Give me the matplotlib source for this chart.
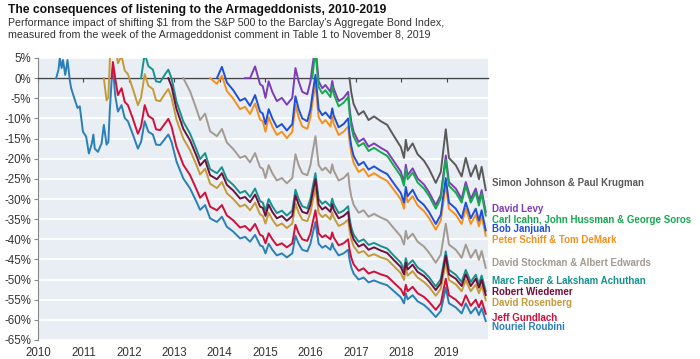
import matplotlib
matplotlib.use('Agg')
import matplotlib.pyplot as plt

plt.rcParams['font.family'] = ['Liberation Sans', 'DejaVu Sans']

# weekly-ish sample dates (decimal years); every series runs to Nov 8, 2019
dates = [2010.40, 2010.45, 2010.48, 2010.52, 2010.55, 2010.60, 2010.65, 2010.70, 2010.73, 2010.80,
         2010.87, 2010.92, 2010.99, 2011.06, 2011.12, 2011.18, 2011.22, 2011.25, 2011.32, 2011.40,
         2011.45, 2011.51, 2011.55, 2011.58, 2011.62, 2011.65, 2011.70, 2011.76, 2011.84, 2011.91,
         2011.98, 2012.09, 2012.20, 2012.27, 2012.35, 2012.43, 2012.53, 2012.60, 2012.69, 2012.80,
         2012.87, 2012.94, 2013.05, 2013.20, 2013.35, 2013.49, 2013.57, 2013.68, 2013.79, 2013.94,
         2014.05, 2014.16, 2014.30, 2014.45, 2014.56, 2014.67, 2014.78, 2014.89, 2014.95, 2015.01,
         2015.08, 2015.16, 2015.26, 2015.37, 2015.48, 2015.60, 2015.67, 2015.74, 2015.82, 2015.93,
         2016.00, 2016.04, 2016.11, 2016.18, 2016.26, 2016.33, 2016.44, 2016.48, 2016.51, 2016.62,
         2016.73, 2016.83, 2016.86, 2016.90, 2016.95, 2017.06, 2017.17, 2017.28, 2017.40, 2017.55,
         2017.69, 2017.84, 2017.99, 2018.06, 2018.10, 2018.14, 2018.25, 2018.36, 2018.50, 2018.61,
         2018.76, 2018.87, 2018.98, 2019.05, 2019.20, 2019.33, 2019.42, 2019.53, 2019.64, 2019.71,
         2019.77, 2019.86]

roubini = [0, 2.0, 5.0, 2.5, 4.5, 0.8, 4.5, -0.5, -2.5, -5.0,
           -7.4, -7.0, -13.3, -14.5, -18.7, -16.5, -14.0, -17.5, -18.3, -16.2,
           -11.6, -16.5, -15.8, -8.3, -0.8, 2.5, -4.3, -8.3, -6.7, -9.9,
           -10.7, -14.0, -17.5, -15.8, -10.7, -13.3, -14.0, -16.5, -16.6, -15.0,
           -14.0, -15.8, -20.7, -24.9, -27.4, -30.7, -32.7, -31.5, -34.8, -35.7,
           -34.4, -36.9, -38.1, -39.8, -39.4, -40.6, -38.9, -41.5, -41.8, -43.5,
           -41.1, -42.6, -44.0, -43.5, -44.5, -43.5, -39.1, -41.1, -42.6, -43.0,
           -41.1, -39.0, -35.7, -41.1, -42.1, -41.6, -42.6, -41.0, -42.1, -44.0,
           -43.5, -42.6, -45.0, -47.0, -48.5, -50.0, -49.5, -50.7, -50.2, -50.9,
           -51.4, -52.9, -54.4, -55.9, -53.4, -54.9, -53.9, -55.4, -56.3, -57.4,
           -59.3, -57.8, -52.0, -55.9, -56.9, -58.4, -55.9, -58.4, -56.9, -58.8,
           -57.1, -60.3]

gundlach = [0, 4.0, 0, -4.2, -2.5, -5.9, -6.7, -10.1, -13.8, -12.0, -6.7, -9.4,
            -10.1, -12.7, -12.9, -11.2, -10.1, -12.0, -17.1, -21.5, -24.1, -27.6,
            -29.7, -28.4, -31.9, -32.8, -31.5, -34.1, -35.3, -37.1, -36.7, -37.9,
            -36.2, -38.9, -39.2, -41.0, -38.5, -40.0, -41.5, -41.0, -42.0, -41.0,
            -36.4, -38.5, -40.0, -40.4, -38.5, -36.3, -32.8, -38.5, -39.5, -39.0,
            -40.0, -38.3, -39.5, -41.5, -41.0,
            -40.0, -42.5, -44.6, -46.2, -47.8, -47.2, -48.5, -48.0, -48.7, -49.2,
            -50.8, -52.4, -53.9, -51.3, -52.9, -51.8, -53.4, -54.3, -55.5, -57.5,
            -55.9, -49.8, -53.9, -55.0, -56.5, -53.9, -56.5, -55.0, -56.9, -55.2, -58.5]

rosenberg = [0, -5.5, -4.8, 3.7, 12.2, 16.0, 8.3, 3.7, 5.5, 1.9,
             1.0, -2.7, -6.7, -4.8, 1.0, -1.9, -2.7, -5.5, -5.7, -3.8,
             -2.7, -4.8, -10.3, -15.0, -17.9, -21.6, -23.9, -22.5, -26.2, -27.3,
             -25.8, -28.6, -30.0, -31.9, -31.4, -32.8, -30.9, -33.8, -34.2, -36.1,
             -33.4, -35.1, -36.7, -36.1, -37.2, -36.1, -31.1, -33.4, -35.1, -35.5,
             -33.4, -31.0, -27.3, -33.4, -34.5, -33.9, -35.1, -33.3, -34.5, -36.7,
             -36.1, -35.1, -37.8, -40.0, -41.7, -43.4, -42.9, -44.2, -43.7, -44.5,
             -45.0, -46.7, -48.4, -50.1, -47.3, -49.0, -47.9, -49.5, -50.6, -51.8,
             -54.0, -52.3, -45.7, -50.1, -51.2, -52.9, -50.1, -52.9, -51.2, -53.4,
             -51.5, -55.1]

faber = [0, 6.1, 3.0, 2.1, -0.8, -1.0, 1.0, 2.1, 0, -5.8,
         -10.8, -13.8, -17.7, -20.1, -18.6, -22.6, -23.6, -22.1, -25.1, -26.5,
         -28.5, -28.0, -29.5, -27.4, -30.5, -30.9, -32.9, -30.0, -31.8, -33.5,
         -32.9, -34.1, -32.9, -27.7, -30.0, -31.8, -32.3, -30.0, -27.6, -23.6,
         -30.0, -31.2, -30.6, -31.8, -29.9, -31.2, -33.5, -32.9, -31.8, -34.7,
         -37.1, -38.8, -40.6, -40.0, -41.4, -40.9, -41.7, -42.3, -44.1, -45.8,
         -47.6, -44.7, -46.4, -45.2, -47.0, -48.1, -49.4, -51.7, -49.9, -43.0,
         -47.6, -48.8, -50.6, -47.6, -50.6, -48.8, -51.1, -49.0, -52.9]

wiedemer = [0, -2.0, -7.7, -12.6, -15.5, -19.3, -21.7, -20.3, -24.1, -25.1,
            -23.6, -26.5, -27.9, -29.9, -29.5, -30.8, -28.9, -31.9, -32.2, -34.2,
            -31.4, -33.2, -34.8, -34.2, -35.4, -34.2, -29.1, -31.4, -33.2, -33.6,
            -31.4, -29.0, -25.1, -31.4, -32.6, -32.0, -33.2, -31.3, -32.6, -34.8,
            -34.2, -33.2, -36.0, -38.3, -40.0, -41.8, -41.2, -42.6, -42.0, -42.8,
            -43.4, -45.2, -46.9, -48.7, -45.8, -47.5, -46.3, -48.1, -49.1, -50.4,
            -52.6, -50.9, -44.1, -48.7, -49.8, -51.6, -48.7, -51.6, -49.8, -52.0,
            -50.1, -53.8]

stockman = [0, -3.3, -7.7, -10.4, -8.8, -13.2, -14.4, -12.6, -16.0, -17.6,
            -19.8, -19.3, -20.9, -18.6, -22.1, -22.5, -24.8, -21.6, -23.6, -25.4,
            -24.8, -26.1, -24.8, -18.9, -21.6, -23.6, -24.1, -21.6, -18.8, -14.4,
            -21.6, -22.9, -22.2, -23.6, -21.4, -22.9, -25.4, -24.8, -23.6, -26.8,
            -29.4, -31.4, -33.4, -32.8, -34.4, -33.7, -34.6, -35.3, -37.3, -39.3,
            -41.3, -37.9, -39.9, -38.6, -40.6, -41.8, -43.3, -45.8, -43.8, -36.1,
            -41.3, -42.6, -44.6, -41.3, -44.6, -42.6, -45.1, -42.9, -47.1]

schiff = [0, -1.4, 0.6, -3.2, -5.1, -7.7, -7.1, -8.9, -6.3, -10.3,
          -10.7, -13.3, -9.7, -12.0, -14.1, -13.3, -14.9, -13.3, -6.6, -9.7,
          -12.0, -12.6, -9.7, -6.4, -1.4, -9.7, -11.2, -10.4, -12.0, -9.5,
          -11.2, -14.1, -13.3, -12.0, -15.6, -18.7, -21.0, -23.3, -22.5, -24.4,
          -23.6, -24.7, -25.5, -27.8, -30.1, -32.4, -28.5, -30.8, -29.3, -31.6,
          -33.0, -34.7, -37.6, -35.3, -26.4, -32.4, -33.9, -36.2, -32.4, -36.2,
          -33.9, -36.8, -34.2, -39.1]

janjuah = [0, 2.8, -1.1, -3.0, -5.6, -5.0, -6.9, -4.2, -8.3, -8.8,
           -11.4, -7.7, -10.0, -12.2, -11.4, -13.0, -11.4, -4.5, -7.7, -10.0,
           -10.7, -7.7, -4.4, 0.8, -7.7, -9.2, -8.5, -10.0, -7.5, -9.2,
           -12.2, -11.4, -10.0, -13.8, -16.9, -19.3, -21.6, -20.8, -22.7, -21.9,
           -23.0, -23.8, -26.2, -28.5, -30.9, -27.0, -29.3, -27.7, -30.1, -31.5,
           -33.2, -36.2, -33.9, -24.8, -30.9, -32.4, -34.8, -30.9, -34.8, -32.4,
           -35.4, -32.8, -37.8]

levy = [0, 0, 2.9, -1.5, -2.0, -4.9, -0.8, -3.4, -5.7, -4.9,
        -6.6, -4.9, 2.5, -0.8, -3.4, -4.0, -0.8, 2.7, 8.2, -0.8,
        -2.5, -1.7, -3.4, -0.7, -2.5, -5.7, -4.9, -3.4, -7.4, -10.8,
        -13.3, -15.8, -15.0, -17.0, -16.2, -17.3, -18.2, -20.7, -23.2, -25.8,
        -21.5, -24.1, -22.4, -24.9, -26.4, -28.3, -31.5, -29.0, -19.2, -25.8,
        -27.4, -30.0, -25.8, -30.0, -27.4, -30.6, -27.8, -33.2]

icahn = [0, 6.8, -2.2, -3.8, -3.0, -4.7, -2.0, -3.8, -7.0, -6.1,
         -4.7, -8.6, -12.0, -14.5, -16.9, -16.1, -18.1, -17.3, -18.4, -19.3,
         -21.8, -24.3, -26.7, -22.6, -25.1, -23.4, -25.9, -27.4, -29.2, -32.4,
         -29.9, -20.3, -26.7, -28.4, -30.9, -26.7, -30.9, -28.4, -31.6, -28.7,
         -34.1]

krugman = [0, -3.6, -6.4, -9.1, -8.2, -10.4, -9.5, -10.7, -11.6, -14.4,
           -17.1, -19.8, -15.3, -18.0, -16.2, -18.9, -20.5, -22.5, -26.0, -23.3,
           -12.7, -19.8, -21.6, -24.4, -19.8, -24.4, -21.6, -25.1, -22.0, -27.8]

names = ['Nouriel Roubini', 'Jeff Gundlach', 'David Rosenberg', 'Marc Faber & Laksham Achuthan',
         'Robert Wiedemer', 'David Stockman & Albert Edwards', 'Peter Schiff & Tom DeMark',
         'Bob Janjuah', 'David Levy', 'Carl Icahn, John Hussman & George Soros',
         'Simon Johnson & Paul Krugman']
values = [roubini, gundlach, rosenberg, faber, wiedemer, stockman, schiff,
          janjuah, levy, icahn, krugman]

colors = ['#2a7fb8', '#d0103a', '#c49a3a', '#17918f', '#6e0f3c', '#a39a92',
          '#f5901e', '#1f4fd8', '#7d3cb5', '#16a84f', '#5a5a5a']
# where the right-hand name labels sit (in % units)
label_y = [-61.8, -59.6, -55.9, -50.4, -53.2, -45.9, -40.2, -37.5, -32.5, -35.2, -26.0]

fig = plt.figure(figsize=(7, 3.59), dpi=100)
ax = fig.add_axes([38 / 700, 1 - 340 / 359, 450 / 700, 282 / 359])
ax.set_facecolor('#e8eef3')
ax.set_xlim(2010, 2019.91)
ax.set_ylim(-65, 5)
ax.set_yticks(range(-65, 6, 5))
ax.set_yticklabels([f'{v}%' for v in range(-65, 6, 5)])
ax.yaxis.grid(True, color='white', lw=1.3)
ax.set_axisbelow(True)
for sp in ['top', 'right']:
    ax.spines[sp].set_visible(False)
ax.spines['left'].set_color('#888888')
ax.spines['bottom'].set_position(('data', 0))
ax.spines['bottom'].set_color('#444444')
ax.spines['bottom'].set_linewidth(1.0)
ax.tick_params(axis='y', length=3, color='#888888', labelsize=8.3, labelcolor='#333333', pad=2)
years = list(range(2010, 2020))
ax.set_xticks(years)
ax.tick_params(axis='x', length=3, color='#444444', labelbottom=False)
sec = ax.secondary_xaxis('bottom')
sec.set_xticks(years)
sec.tick_params(length=0, labelsize=8.3, labelcolor='#333333', pad=5)
sec.spines['bottom'].set_visible(False)

for v, c in zip(values, colors):
    ax.plot(dates[len(dates) - len(v):], v, color=c, lw=1.4, zorder=3)

for n, c, y in zip(names, colors, label_y):
    ax.text(2020.0, y, n, color=c, fontsize=7, fontweight='bold', va='center', ha='left', clip_on=False)

fig.text(8 / 700, 1 - 10 / 359, 'The consequences of listening to the Armageddonists, 2010-2019',
         fontsize=8.7, fontweight='bold', va='center', color='#111111')
fig.text(8 / 700, 1 - 23 / 359, "Performance impact of shifting $1 from the S&P 500 to the Barclay's Aggregate Bond Index,",
         fontsize=7.7, va='center', color='#333333')
fig.text(8 / 700, 1 - 35 / 359, 'measured from the week of the Armageddonist comment in Table 1 to November 8, 2019',
         fontsize=7.7, va='center', color='#333333')

fig.savefig('out.png', dpi=100)
